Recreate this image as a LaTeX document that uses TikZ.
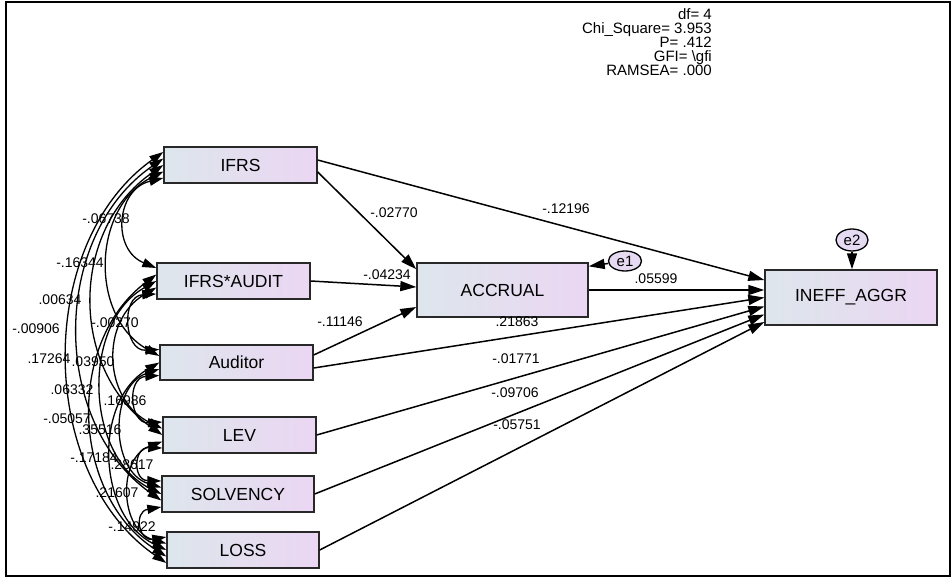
\documentclass[tikz,border=0pt]{standalone}
\usepackage{fontspec}
\setmainfont{Liberation Sans}
\usetikzlibrary{arrows.meta,shapes.geometric}

\definecolor{boxleft}{RGB}{221,230,236}
\definecolor{boxright}{RGB}{235,214,243}
\definecolor{errfill}{RGB}{230,218,242}
\definecolor{edge}{RGB}{40,40,40}

\begin{document}
\begin{tikzpicture}[x=1pt,y=1pt,
  var/.style={draw=edge, line width=1.4pt, left color=boxleft, right color=boxright,
              minimum width=153pt, minimum height=36pt, inner sep=0pt,
              font=\fontsize{17.5}{20}\selectfont},
  err/.style={ellipse, draw=black, line width=1.3pt, fill=errfill,
              minimum width=33pt, minimum height=20pt, inner sep=0pt,
              font=\fontsize{15}{17}\selectfont},
  reg/.style={line width=1.5pt, -{Triangle[length=16pt,width=10pt]}},
  cov/.style={line width=1.3pt, {Triangle[length=14pt,width=9pt]}-{Triangle[length=14pt,width=9pt]}},
  est/.style={font=\fontsize{14}{15}\selectfont, inner sep=0pt},
  stat/.style={font=\fontsize{15}{17}\selectfont, inner sep=0pt, anchor=base east},
]
\useasboundingbox (0,0) rectangle (952,-578);
\draw[line width=1.5pt] (6,-2) rectangle (950,-576);

% fit statistics
\node[stat] (s1) at (712,-19.5) {df= 4};
\node[stat] (s2) at (712,-33.5) {Chi\_Square= 3.953};
\node[stat] (s3) at (712,-47.5) {P= .412};
\node[stat] (s4) at (712,-61.5) {GFI= \textbackslash gfi};
\node[stat] (s5) at (712,-75.5) {RAMSEA= .000};

% observed variables
\node[var] (b1) at (240.5,-165) {IFRS};
\node[var] (b2) at (233.5,-281) {IFRS*AUDIT};
\node[var, minimum height=35pt] (b3) at (236.5,-362.5) {Auditor};
\node[var] (b4) at (239.5,-435) {LEV};
\node[var, minimum width=152pt] (b5) at (238,-494) {SOLVENCY};
\node[var, minimum width=152pt] (b6) at (243,-550) {LOSS};
\node[var, minimum width=171pt, minimum height=54pt] (acc) at (502.5,-290) {ACCRUAL};
\node[var, minimum width=172pt, minimum height=55pt] (ineff) at (851,-297.5) {INEFF\_AGGR};

% error terms
\node[err] (e1) at (625,-261) {e1};
\node[err, minimum width=32pt, minimum height=22pt] (e2) at (852,-240) {e2};

% regression paths
\draw[reg] ([yshift=5pt]b1.east) -- ([yshift=17.5pt]ineff.west);
\draw[reg] ([yshift=-7pt]b1.east) -- ([yshift=-7pt]acc.north west);
\draw[reg] (b2.east) -- ([yshift=3pt]acc.west);
\draw[reg] ([yshift=7.5pt]b3.east) -- ([yshift=-17pt]acc.west);
\draw[reg] ([yshift=-5.5pt]b3.east) -- (ineff.west);
\draw[reg] (acc.east) -- ([yshift=7.5pt]ineff.west);
\draw[reg] (b4.east) -- ([yshift=-9pt]ineff.west);
\draw[reg] (b5.east) -- ([yshift=-17pt]ineff.west);
\draw[reg] (b6.east) -- ([yshift=-24.5pt]ineff.west);
\draw[reg] (e1) -- ([yshift=-4pt]acc.north east);
\draw[reg] (e2) -- (e2 |- ineff.north);

% covariances among exogenous variables
\draw[cov] ([yshift=-13pt]b1.west) to[bend right=72, looseness=1.38] ([yshift=13pt]b2.west);
\draw[cov] ([yshift=-6.5pt]b1.west) to[bend right=62, looseness=1.11] ([yshift=6.5pt]b3.west);
\draw[cov] (b1.west) to[bend right=55, looseness=1.08] (b4.west);
\draw[cov] ([yshift=6.5pt]b1.west) to[bend right=55, looseness=1.02] ([yshift=-6.5pt]b5.west);
\draw[cov] ([yshift=13pt]b1.west) to[bend right=55, looseness=0.98] ([yshift=-13pt]b6.west);
\draw[cov] ([yshift=-13pt]b2.west) to[bend right=90, looseness=1.64] ([yshift=13pt]b3.west);
\draw[cov] ([yshift=-6.5pt]b2.west) to[bend right=62, looseness=1.19] ([yshift=6.5pt]b4.west);
\draw[cov] (b2.west) to[bend right=62, looseness=1.03] (b5.west);
\draw[cov] ([yshift=6.5pt]b2.west) to[bend right=55, looseness=1.03] ([yshift=-6.5pt]b6.west);
\draw[cov] ([yshift=-13pt]b3.west) to[bend right=90, looseness=1.81] ([yshift=13pt]b4.west);
\draw[cov] ([yshift=-6.5pt]b3.west) to[bend right=72, looseness=1.15] ([yshift=6.5pt]b5.west);
\draw[cov] (b3.west) to[bend right=62, looseness=1.05] (b6.west);
\draw[cov] ([yshift=-13pt]b4.west) to[bend right=90, looseness=2.23] ([yshift=13pt]b5.west);
\draw[cov] ([yshift=-6.5pt]b4.west) to[bend right=72, looseness=1.21] ([yshift=6.5pt]b6.west);
\draw[cov] ([yshift=-13pt]b5.west) to[bend right=90, looseness=2.37] ([yshift=13pt]b6.west);

% path estimates
\node[est] (p1) at (394,-213) {-.02770};
\node[est] (p2) at (566,-209) {-.12196};
\node[est] (p3) at (387,-275) {-.04234};
\node[est] (p4) at (340,-322) {-.11146};
\node[est] (p5) at (517,-322) {.21863};
\node[est] (p6) at (656,-279) {.05599};
\node[est] (p7) at (516,-359) {-.01771};
\node[est] (p8) at (515,-393) {-.09706};
\node[est] (p9) at (517,-425) {-.05751};

% covariance estimates
\node[est] (c12) at (106,-219) {-.06738};
\node[est] (c13) at (80,-263) {-.16344};
\node[est] (c14) at (60,-300) {.00634};
\node[est] (c15) at (36,-329) {-.00906};
\node[est] (c16) at (49,-359) {.17264};
\node[est] (c23) at (115,-323) {-.00270};
\node[est] (c24) at (93,-362) {.03950};
\node[est] (c25) at (72,-390) {.06332};
\node[est] (c26) at (67,-419) {-.05057};
\node[est] (c34) at (125,-401) {.16986};
\node[est] (c35) at (100,-430) {.35516};
\node[est] (c36) at (94,-458) {-.17184};
\node[est] (c45) at (132,-465) {.28617};
\node[est] (c46) at (117,-493) {.21607};
\node[est] (c56) at (132,-527) {-.14922};
\end{tikzpicture}
\end{document}
